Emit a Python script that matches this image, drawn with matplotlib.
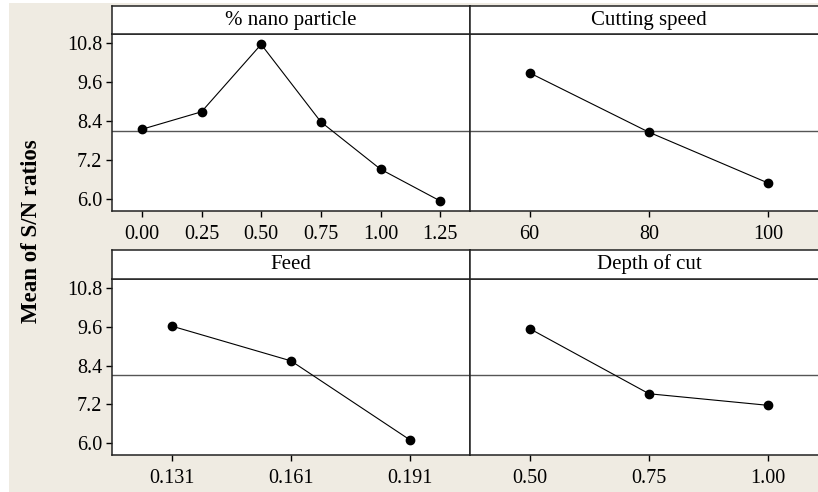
import numpy as np
import matplotlib
matplotlib.use("Agg")
import matplotlib.pyplot as plt
from matplotlib.patches import Rectangle

# Main effects for S/N ratios
nano_levels = ["0.00", "0.25", "0.50", "0.75", "1.00", "1.25"]
nano_sn = [8.15, 8.69, 10.77, 8.38, 6.92, 5.94]

speed_levels = ["60", "80", "100"]
speed_sn = [9.89, 8.06, 6.49]

feed_levels = ["0.131", "0.161", "0.191"]
feed_sn = [9.63, 8.55, 6.09]

doc_levels = ["0.50", "0.75", "1.00"]
doc_sn = [9.55, 7.53, 7.17]

panel_titles = ["% nano particle", "Cutting speed", "Feed", "Depth of cut"]
grand_mean = 8.11
y_ticks = [6.0, 7.2, 8.4, 9.6, 10.8]

W, H = 818, 492
BG = "#EFEBE2"
plt.rcParams["font.family"] = ["Liberation Serif", "DejaVu Serif"]

fig = plt.figure(figsize=(W / 100, H / 100), dpi=100, facecolor="white")
fig.patches.append(Rectangle((9 / W, 0), 1, 1 - 3 / H, transform=fig.transFigure,
                             facecolor=BG, edgecolor="none", zorder=-10))


def fx(px):
    return px / W


def fy(py):
    return 1 - py / H


# panel geometry in pixels: (left, right) and (strip_top, plot_top, plot_bottom)
cols = [(112, 470), (470, 828)]
rows = [(6, 34, 211), (249.5, 279, 455)]

panels = [
    (nano_levels, nano_sn),
    (speed_levels, speed_sn),
    (feed_levels, feed_sn),
    (doc_levels, doc_sn),
]

for i, (levels, values) in enumerate(panels):
    r, c = divmod(i, 2)
    left, right = cols[c]
    s_top, p_top, p_bot = rows[r]

    ax = fig.add_axes([fx(left), fy(p_bot), fx(right - left), fy(p_top) - fy(p_bot)])
    sax = fig.add_axes([fx(left), fy(p_top), fx(right - left), fy(s_top) - fy(p_top)])

    x = np.arange(len(levels))
    ax.axhline(grand_mean, color="#555555", lw=1.0, zorder=1)
    ax.plot(x, values, color="black", lw=0.8, marker="o", markersize=6, zorder=3)
    ax.set_xlim(-0.5, len(levels) - 0.5)
    ax.set_ylim(5.63, 11.09)
    ax.set_xticks(x)
    ax.set_xticklabels(levels)
    ax.set_yticks(y_ticks)
    ax.tick_params(axis="x", direction="out", length=4, width=1, pad=6, labelsize=14.5)
    if c == 0:
        ax.set_yticklabels([f"{t:.1f}" for t in y_ticks])
        ax.tick_params(axis="y", direction="out", length=4, width=1, pad=3, labelsize=14.5)
    else:
        ax.tick_params(axis="y", left=False, labelleft=False)
    for sp in ax.spines.values():
        sp.set_linewidth(1.1)
        sp.set_color("#222222")

    sax.set_xticks([])
    sax.set_yticks([])
    for sp in sax.spines.values():
        sp.set_linewidth(1.1)
        sp.set_color("#222222")
    sax.text(0.5, 0.5, panel_titles[i], transform=sax.transAxes,
             ha="center", va="center", fontsize=15)

fig.text(fx(32), fy(231), "Mean of S/N ratios", rotation=90, ha="center",
         va="center", fontsize=16.5, fontweight="bold")

fig.savefig("out.png", dpi=100, facecolor=fig.get_facecolor())
